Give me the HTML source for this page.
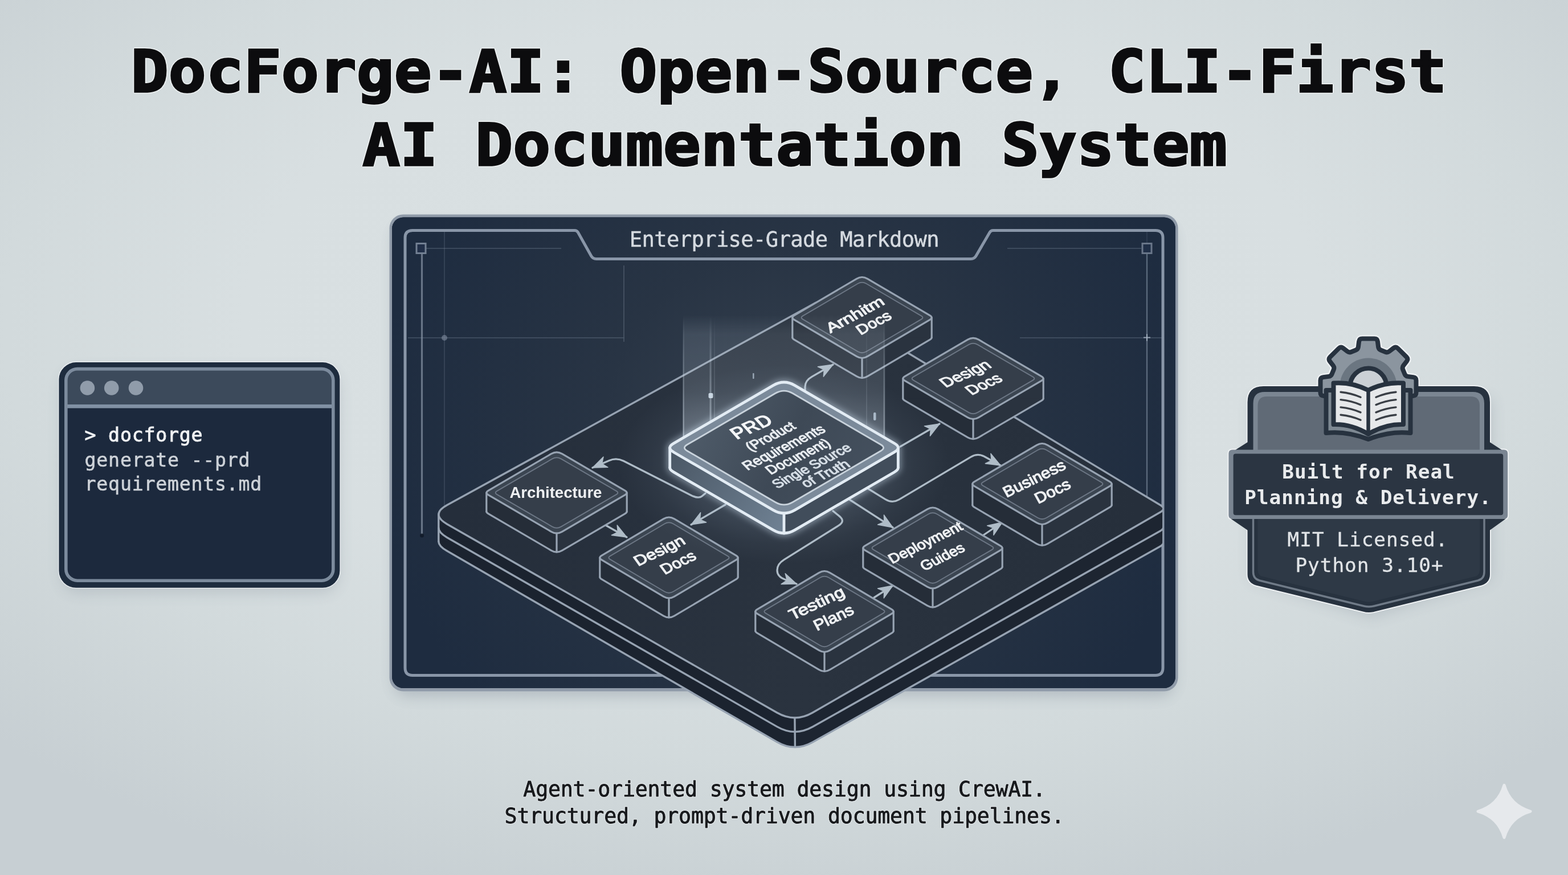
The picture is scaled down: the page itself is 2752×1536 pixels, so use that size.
<!DOCTYPE html>
<html lang="en">
<head>
<meta charset="utf-8">
<title>DocForge-AI: Open-Source, CLI-First AI Documentation System</title>
<style>
html,body{margin:0;padding:0;background:#d4dcde;}
body{width:2752px;height:1536px;overflow:hidden;}
svg{display:block;}
text{white-space:pre;}
</style>
</head>
<body>
<svg width="2752" height="1536" viewBox="0 0 2752 1536" role="img" aria-label="DocForge-AI infographic">
<defs>
<radialGradient id="bg" gradientUnits="userSpaceOnUse" cx="0" cy="0" r="1" gradientTransform="translate(1376 570) scale(1900 1060)">
  <stop offset="0" stop-color="#dae1e3"/>
  <stop offset="0.5" stop-color="#d8dfe1"/>
  <stop offset="0.72" stop-color="#d2dadc"/>
  <stop offset="0.9" stop-color="#cbd3d6"/>
  <stop offset="1.0" stop-color="#c7cfd3"/>
</radialGradient>
<radialGradient id="panelg" gradientUnits="userSpaceOnUse" cx="1380" cy="760" r="720">
  <stop offset="0" stop-color="#36414f"/>
  <stop offset="0.45" stop-color="#283444"/>
  <stop offset="1" stop-color="#1e2c40"/>
</radialGradient>
<linearGradient id="platg" gradientUnits="userSpaceOnUse" x1="800" y1="900" x2="2000" y2="900">
  <stop offset="0" stop-color="#252e3b"/>
  <stop offset="0.5" stop-color="#2a333f"/>
  <stop offset="1" stop-color="#262f3b"/>
</linearGradient>
<linearGradient id="beamg" gradientUnits="userSpaceOnUse" x1="0" y1="552" x2="0" y2="800">
  <stop offset="0" stop-color="#c9d6e2" stop-opacity="0"/>
  <stop offset="0.14" stop-color="#c9d6e2" stop-opacity="0.11"/>
  <stop offset="0.55" stop-color="#c9d6e2" stop-opacity="0.15"/>
  <stop offset="1" stop-color="#d6e2ee" stop-opacity="0.30"/>
</linearGradient>
<radialGradient id="prdglow" cx="50%" cy="50%" r="50%">
  <stop offset="0" stop-color="#b9cbdc" stop-opacity="0.34"/>
  <stop offset="0.55" stop-color="#a9bccf" stop-opacity="0.16"/>
  <stop offset="0.8" stop-color="#a9bccf" stop-opacity="0.05"/>
  <stop offset="1" stop-color="#a9bccf" stop-opacity="0"/>
</radialGradient>
<linearGradient id="prdtop" gradientUnits="userSpaceOnUse" x1="1200" y1="700" x2="1560" y2="880">
  <stop offset="0" stop-color="#525f6d"/>
  <stop offset="0.5" stop-color="#3e4956"/>
  <stop offset="1" stop-color="#465260"/>
</linearGradient>
<linearGradient id="prdside" gradientUnits="userSpaceOnUse" x1="1170" y1="800" x2="1376" y2="930">
  <stop offset="0" stop-color="#4a5765"/>
  <stop offset="1" stop-color="#6f8193"/>
</linearGradient>
<linearGradient id="beaml" gradientUnits="userSpaceOnUse" x1="0" y1="556" x2="0" y2="790">
  <stop offset="0" stop-color="#cddbe8" stop-opacity="0"/>
  <stop offset="0.3" stop-color="#cddbe8" stop-opacity="0.22"/>
  <stop offset="1" stop-color="#dbe7f2" stop-opacity="0.5"/>
</linearGradient>
<filter id="blur3" x="-20%" y="-20%" width="140%" height="140%"><feGaussianBlur stdDeviation="3"/></filter>
<filter id="blur6" x="-20%" y="-20%" width="140%" height="140%"><feGaussianBlur stdDeviation="6"/></filter>
<filter id="blur12" x="-30%" y="-30%" width="160%" height="160%"><feGaussianBlur stdDeviation="12"/></filter>
<filter id="blur20" x="-30%" y="-30%" width="160%" height="160%"><feGaussianBlur stdDeviation="20"/></filter>
<clipPath id="panelclip"><rect x="684" y="377" width="1383" height="836" rx="24"/></clipPath>
</defs>
<rect width="2752" height="1536" fill="url(#bg)"/>
<g opacity="0.999">
<g font-family="'DejaVu Sans Mono', 'Liberation Mono', monospace" font-weight="bold" font-size="102" letter-spacing="0.54" text-anchor="middle" stroke-linejoin="miter" stroke-miterlimit="2.5">
<g fill="#f4f6f7" stroke="#f4f6f7" stroke-width="7" opacity="0.7" stroke-linejoin="round">
<text transform="translate(1384.6 161.4) scale(1.065 1)" x="0" y="0">DocForge-AI: Open-Source, CLI-First</text>
<text transform="translate(1395.2 289.6) scale(1.065 1)" x="0" y="0">AI Documentation System</text>
</g>
<g fill="#0c0c0e" stroke="#0c0c0e" stroke-width="3.6">
<text transform="translate(1384.6 161.4) scale(1.065 1)" x="0" y="0">DocForge-AI: Open-Source, CLI-First</text>
<text transform="translate(1395.2 289.6) scale(1.065 1)" x="0" y="0">AI Documentation System</text>
</g>
</g>
<g font-family="'DejaVu Sans Mono', 'Liberation Mono', monospace" font-size="36.6" letter-spacing="-0.2" text-anchor="middle" stroke-linejoin="round">
<g fill="#eef1f3" stroke="#eef1f3" stroke-width="3.4" opacity="0.55">
<text x="1376.6" y="1398.2">Agent-oriented system design using CrewAI.</text>
<text x="1376.6" y="1445.4">Structured, prompt-driven document pipelines.</text>
</g>
<g fill="#17191c" stroke="#17191c" stroke-width="0.9">
<text x="1376.6" y="1398.2">Agent-oriented system design using CrewAI.</text>
<text x="1376.6" y="1445.4">Structured, prompt-driven document pipelines.</text>
</g>
</g>
<path d="M2640 1378.3Q2650.3 1414 2686 1424.3Q2650.3 1434.6 2640 1470.3Q2629.7 1434.6 2594 1424.3Q2629.7 1414 2640 1378.3Z" fill="#e6e9ec" stroke="#e6e9ec" stroke-width="5" stroke-linejoin="round"/>
<g id="terminal">
<rect x="108" y="650" width="486" height="390" rx="30" fill="#97a1ab" opacity="0.4" filter="url(#blur12)"/>
<rect x="102" y="634.6" width="495.8" height="398.6" rx="31" fill="#e9edf0"/>
<rect x="103.4" y="636.1" width="493" height="395.7" rx="30" fill="#1e2c3e"/>
<path d="M116 713 V671 Q116 648 139 648 H561 Q584 648 584 671 V713 Z" fill="#3c4a5b"/>
<path d="M116 717 H584 V997 Q584 1019 562 1019 H138 Q116 1019 116 997 Z" fill="#1c293d"/>
<rect x="113" y="710" width="474" height="6.5" fill="#8191a4"/>
<rect x="115.8" y="647.6" width="469" height="371.6" rx="20" fill="none" stroke="#7c8b9d" stroke-width="5.6"/>
<circle cx="153.4" cy="681" r="12.8" fill="#909caa"/>
<circle cx="195.7" cy="681" r="12.8" fill="#909caa"/>
<circle cx="238.5" cy="681" r="12.8" fill="#909caa"/>
<g font-family="'DejaVu Sans Mono', 'Liberation Mono', monospace" font-size="33.2" letter-spacing="0.78">
<text x="148.6" y="775.4" fill="#f0f2f4" stroke="#f0f2f4" stroke-width="0.9">&gt; docforge</text>
<text x="148.6" y="818.6" fill="#cdd2d8" stroke="#cdd2d8" stroke-width="0.6">generate --prd</text>
<text x="148.6" y="861.3" fill="#cdd2d8" stroke="#cdd2d8" stroke-width="0.6">requirements.md</text>
</g>
</g>
<g id="badge">
<path d="M2196 700 H2618 V1018 L2406 1084 L2196 1018 Z" fill="#97a1ab" opacity="0.4" filter="url(#blur12)"/>
<g fill="#eef1f3" stroke="#eef1f3" stroke-width="4" stroke-linejoin="round"><path d="M2379.7 614.5Q2383.4 613 2383.9 609L2385.1 599.4Q2385.8 594.5 2390.8 594.5L2412.2 594.5Q2417.2 594.5 2417.9 599.4L2419.1 609Q2419.6 613 2423.3 614.5L2431.3 617.8Q2435 619.3 2438.2 616.9L2445.8 611Q2449.8 608 2453.3 611.5L2468.5 626.7Q2472 630.2 2469 634.2L2463.1 641.8Q2460.7 645 2462.2 648.7L2465.5 656.7Q2467 660.4 2471 660.9L2480.6 662.1Q2485.5 662.8 2485.5 667.8L2485.5 689.2Q2485.5 694.2 2480.6 694.9L2471 696.1Q2467 696.6 2465.5 700.3L2462.2 708.3Q2460.7 712 2463.1 715.2L2469 722.8Q2472 726.8 2468.5 730.3L2453.3 745.5Q2449.8 749 2445.8 746L2438.2 740.1Q2435 737.7 2431.3 739.2L2423.3 742.5Q2419.6 744 2419.1 748L2417.9 757.6Q2417.2 762.5 2412.2 762.5L2390.8 762.5Q2385.8 762.5 2385.1 757.6L2383.9 748Q2383.4 744 2379.7 742.5L2371.7 739.2Q2368 737.7 2364.8 740.1L2357.2 746Q2353.2 749 2349.7 745.5L2334.5 730.3Q2331 726.8 2334 722.8L2339.9 715.2Q2342.3 712 2340.8 708.3L2337.5 700.3Q2336 696.6 2332 696.1L2322.4 694.9Q2317.5 694.2 2317.5 689.2L2317.5 667.8Q2317.5 662.8 2322.4 662.1L2332 660.9Q2336 660.4 2337.5 656.7L2340.8 648.7Q2342.3 645 2339.9 641.8L2334 634.2Q2331 630.2 2334.5 626.7L2349.7 611.5Q2353.2 608 2357.2 611L2364.8 616.9Q2368 619.3 2371.7 617.8Z" stroke-width="13"/><path d="M2189.5 706Q2189.5 678 2217.5 678H2587Q2615 678 2615 706V1008Q2615 1023 2600 1027.5L2413 1073.5Q2402.5 1076.5 2392 1073.5L2204.5 1027.5Q2189.5 1023 2189.5 1008Z"/><path d="M2156.4 796Q2156.4 789.5 2163 789.5H2639.6Q2646.2 789.5 2646.2 796V904.6Q2646.2 911.1 2639.6 911.1H2163Q2156.4 911.1 2156.4 904.6Z"/></g>
<clipPath id="shclip"><path d="M2189.5 706Q2189.5 678 2217.5 678H2587Q2615 678 2615 706V1008Q2615 1023 2600 1027.5L2413 1073.5Q2402.5 1076.5 2392 1073.5L2204.5 1027.5Q2189.5 1023 2189.5 1008Z"/></clipPath>
<path d="M2189.5 706Q2189.5 678 2217.5 678H2587Q2615 678 2615 706V1008Q2615 1023 2600 1027.5L2413 1073.5Q2402.5 1076.5 2392 1073.5L2204.5 1027.5Q2189.5 1023 2189.5 1008Z" fill="#27323f"/>
<g clip-path="url(#shclip)">
<path d="M2199.5 708Q2199.5 688 2219.5 688H2585Q2605 688 2605 708V1004Q2605 1016 2594 1019L2411 1064Q2402.5 1066 2394 1064L2210.5 1019Q2199.5 1016 2199.5 1004Z" fill="#7b8692"/>
<path d="M2207.5 712Q2207.5 696 2223.5 696H2581Q2597 696 2597 712V1001Q2597 1010 2589 1012L2409 1056Q2402.5 1057.5 2396 1056L2215.5 1012Q2207.5 1010 2207.5 1001Z" fill="#606a76"/>
<clipPath id="shlow"><rect x="2150" y="900" width="520" height="200"/></clipPath>
<g clip-path="url(#shlow)">
<path d="M2199.5 708Q2199.5 688 2219.5 688H2585Q2605 688 2605 708V1004Q2605 1016 2594 1019L2411 1064Q2402.5 1066 2394 1064L2210.5 1019Q2199.5 1016 2199.5 1004Z" fill="#27323f"/>
<path d="M2199.5 708Q2199.5 688 2219.5 688H2585Q2605 688 2605 708V1004Q2605 1016 2594 1019L2411 1064Q2402.5 1066 2394 1064L2210.5 1019Q2199.5 1016 2199.5 1004Z" fill="none" stroke="#6f7a87" stroke-width="3.5" transform="translate(0 0)"/>
<path d="M2207.5 712Q2207.5 696 2223.5 696H2581Q2597 696 2597 712V1001Q2597 1010 2589 1012L2409 1056Q2402.5 1057.5 2396 1056L2215.5 1012Q2207.5 1010 2207.5 1001Z" fill="#2e3946"/>
</g>
</g>
<path d="M2190 776L2168 790H2190Z M2614.5 776L2636 790H2614.5Z M2160 910.5H2190V931Z M2643 910.5H2614.5V931Z" fill="#27323f"/>
<path d="M2156.4 796Q2156.4 789.5 2163 789.5H2639.6Q2646.2 789.5 2646.2 796V904.6Q2646.2 911.1 2639.6 911.1H2163Q2156.4 911.1 2156.4 904.6Z" fill="#7a8592"/>
<rect x="2164.6" y="796.6" width="473.6" height="107.6" rx="4" fill="#2b3542"/>
<path d="M2379.7 614.5Q2383.4 613 2383.9 609L2385.1 599.4Q2385.8 594.5 2390.8 594.5L2412.2 594.5Q2417.2 594.5 2417.9 599.4L2419.1 609Q2419.6 613 2423.3 614.5L2431.3 617.8Q2435 619.3 2438.2 616.9L2445.8 611Q2449.8 608 2453.3 611.5L2468.5 626.7Q2472 630.2 2469 634.2L2463.1 641.8Q2460.7 645 2462.2 648.7L2465.5 656.7Q2467 660.4 2471 660.9L2480.6 662.1Q2485.5 662.8 2485.5 667.8L2485.5 689.2Q2485.5 694.2 2480.6 694.9L2471 696.1Q2467 696.6 2465.5 700.3L2462.2 708.3Q2460.7 712 2463.1 715.2L2469 722.8Q2472 726.8 2468.5 730.3L2453.3 745.5Q2449.8 749 2445.8 746L2438.2 740.1Q2435 737.7 2431.3 739.2L2423.3 742.5Q2419.6 744 2419.1 748L2417.9 757.6Q2417.2 762.5 2412.2 762.5L2390.8 762.5Q2385.8 762.5 2385.1 757.6L2383.9 748Q2383.4 744 2379.7 742.5L2371.7 739.2Q2368 737.7 2364.8 740.1L2357.2 746Q2353.2 749 2349.7 745.5L2334.5 730.3Q2331 726.8 2334 722.8L2339.9 715.2Q2342.3 712 2340.8 708.3L2337.5 700.3Q2336 696.6 2332 696.1L2322.4 694.9Q2317.5 694.2 2317.5 689.2L2317.5 667.8Q2317.5 662.8 2322.4 662.1L2332 660.9Q2336 660.4 2337.5 656.7L2340.8 648.7Q2342.3 645 2339.9 641.8L2334 634.2Q2331 630.2 2334.5 626.7L2349.7 611.5Q2353.2 608 2357.2 611L2364.8 616.9Q2368 619.3 2371.7 617.8Z" fill="#8b959f" stroke="#27323f" stroke-width="8" stroke-linejoin="round"/>
<circle cx="2401.5" cy="678.5" r="50" fill="#6b7681"/>
<circle cx="2401.5" cy="678.5" r="32" fill="#cbd0d5" stroke="#27323f" stroke-width="8"/>
<path d="M2327.5 685H2475.5V760Q2440 756 2401.5 771Q2363 756 2327.5 760Z" fill="#7d8892" stroke="#27323f" stroke-width="8" stroke-linejoin="round"/>
<path d="M2340.5 672.5Q2372 670 2401.5 685Q2431 670 2463 672.5V745Q2431 744 2401.5 762Q2372 744 2340.5 745Z" fill="#e6e8ea" stroke="#27323f" stroke-width="8" stroke-linejoin="round"/>
<path d="M2401.5 685V762" stroke="#27323f" stroke-width="6.5"/>
<g stroke="#3a3f46" stroke-width="3.4" stroke-linecap="round" fill="none">
<path d="M2353 688.3Q2372 690.3 2388 697.3"/>
<path d="M2450 688.3Q2431 690.3 2415 697.3"/>
<path d="M2353 701.6Q2372 703.6 2388 710.6"/>
<path d="M2450 701.6Q2431 703.6 2415 710.6"/>
<path d="M2353 714.9Q2372 716.9 2388 723.9"/>
<path d="M2450 714.9Q2431 716.9 2415 723.9"/>
<path d="M2353 728.2Q2372 730.2 2388 737.2"/>
<path d="M2450 728.2Q2431 730.2 2415 737.2"/>
</g>
<g font-family="'DejaVu Sans Mono', 'Liberation Mono', monospace" text-anchor="middle" font-size="34.4" letter-spacing="0.98">
<g font-weight="bold" fill="#e9ebed">
<text x="2402" y="840.2">Built for Real</text>
<text x="2401" y="884.8">Planning &amp; Delivery.</text>
</g>
<g fill="#e1e4e7" stroke="#e1e4e7" stroke-width="0.3">
<text x="2400.5" y="959.3">MIT Licensed.</text>
<text x="2403.5" y="1004">Python 3.10+</text>
</g>
</g>
</g>
<g id="panel">
<rect x="692" y="396" width="1368" height="826" rx="24" fill="#8a95a0" opacity="0.45" filter="url(#blur12)"/>
<rect x="683.5" y="376.5" width="1384" height="837" rx="24" fill="#909ba9"/>
<rect x="688" y="381.5" width="1375" height="826.5" rx="20" fill="#1d2b3e"/>
<rect x="688" y="381.5" width="1375" height="826.5" rx="20" fill="url(#panelg)"/>
<g clip-path="url(#panelclip)">
<g stroke="#8996a8" fill="none" opacity="0.36" stroke-width="1.6">
<path d="M748 436 H985"/>
</g><path d="M740.5 446 V938" stroke="#7a8798" stroke-width="3.2" opacity="0.8" fill="none"/><path d="M2013 446 V880" stroke="#6f7d90" stroke-width="2.4" opacity="0.75" fill="none"/><g stroke="#8996a8" fill="none" opacity="0.36" stroke-width="1.6">
<path d="M780 404 V965" opacity="0.7"/>
<path d="M716 593 H1096"/>
<path d="M1095 466 V600"/>
<path d="M1768 436 H2003"/>
<path d="M1790 593 H2040"/>
<path d="M2013 404 V427" opacity="0.5"/>
</g>
<rect x="731" y="427.5" width="16" height="17" fill="#22314a" stroke="#8996a8" stroke-width="3" opacity="0.8"/>
<rect x="2005" y="427.5" width="16" height="17" fill="#22314a" stroke="#8996a8" stroke-width="3" opacity="0.7"/>
<circle cx="780" cy="593" r="5" fill="#8996a8" opacity="0.55"/>
<circle cx="740.5" cy="940" r="3.5" fill="#0f1826" opacity="0.8"/><path d="M2007 592.5H2019M2013 586.5V598.5" stroke="#b9c6d4" stroke-width="2" opacity="0.7"/>
</g>
<path d="M711 450Q711 430 711 417.2L711 417.2Q711 404.5 724 404.5L1008.5 404.5Q1012.5 404.5 1014.5 408L1037.6 449.3Q1040.5 454.5 1046.5 454.5L1704 454.5Q1710 454.5 1713 449.3L1737 408Q1739 404.5 1743 404.5L2028 404.5Q2041 404.5 2041 417.5L2041 1172.5Q2041 1185.5 2028 1185.5L724 1185.5Q711 1185.5 711 1172.5Z" fill="none" stroke="#8996a8" stroke-width="5" stroke-linejoin="round"/>
<text x="1376.4" y="432.8" text-anchor="middle" font-family="'DejaVu Sans Mono', 'Liberation Mono', monospace" font-size="37.2" letter-spacing="-0.66" fill="#d5dae0" stroke="#d5dae0" stroke-width="0.45">Enterprise-Grade Markdown</text>
<g id="diagram">
<clipPath id="platclip"><rect x="600" y="300" width="1441" height="1200"/></clipPath>
<g clip-path="url(#platclip)">
<g fill="#1b232f"><path d="M784.4 967Q755 950 784.9 933.9L1431.2 585.2Q1440 580.5 1448.5 585.7L2036.8 946.7Q2047 953 2036.5 958.9L1426.4 1302.8Q1395 1320.5 1363.8 1302.5Z"/><path d="M769.8 903.2L2041.8 892.9L2041.8 952.8L769.8 950.4Z"/></g><clipPath id="platR"><rect x="1395" y="0" width="1500" height="1536"/></clipPath><g fill="#1d2531" clip-path="url(#platR)"><path d="M784.4 967Q755 950 784.9 933.9L1431.2 585.2Q1440 580.5 1448.5 585.7L2036.8 946.7Q2047 953 2036.5 958.9L1426.4 1302.8Q1395 1320.5 1363.8 1302.5Z"/><path d="M769.8 903.2L2041.8 892.9L2041.8 952.8L769.8 950.4Z"/></g><path d="M784.5 919.9Q755 903 784.8 886.6L1431.2 531.8Q1440 527 1448.6 532.2L2036.7 886.8Q2047 893 2036.6 899L1426.2 1251Q1395 1269 1363.7 1251.1Z" fill="url(#platg)"/><g fill="none" stroke="#97a3b2" stroke-width="3.4" stroke-linejoin="round" stroke-linecap="round"><path d="M769.8 926.8Q769.8 935 784.5 943.4L1363.8 1275.6Q1395 1293.5 1426.4 1275.8L2036.5 931.9Q2041.8 928.9 2041.8 925.8"/><path d="M769.8 950.4Q769.8 958.6 784.4 967L1363.8 1302.5Q1395 1320.5 1426.4 1302.8L2036.5 958.9Q2041.8 955.9 2041.8 952.8"/><path d="M769.8 903.2L769.8 950.4M2041.8 892.9L2041.8 952.8"/><path d="M1394.9 1260L1395.4 1311.6"/><path d="M784.5 919.9Q755 903 784.8 886.6L1431.2 531.8Q1440 527 1448.6 532.2L2036.7 886.8Q2047 893 2036.6 899L1426.2 1251Q1395 1269 1363.7 1251.1Z"/></g>
</g>
<path d="M1413 690L1413 679Q1413 668 1425.2 661.1L1462 640" fill="none" stroke="#afbcc7" stroke-width="3.3" stroke-linecap="round" stroke-linejoin="round"/><path d="M1462 640L1445.3 661.1L1446.4 648.9L1435.3 643.7Z" fill="#afbcc7" stroke="#afbcc7" stroke-width="1.5" stroke-linejoin="round"/>
<path d="M1580 784L1649 744" fill="none" stroke="#afbcc7" stroke-width="3.3" stroke-linecap="round" stroke-linejoin="round"/><path d="M1649 744L1632.4 765.2L1633.4 753L1622.4 747.9Z" fill="#afbcc7" stroke="#afbcc7" stroke-width="1.5" stroke-linejoin="round"/>
<path d="M1238 866L1232 871Q1226 876 1213.5 869.7L1094.5 809.3Q1082 803 1069.1 808.5L1040 821" fill="none" stroke="#afbcc7" stroke-width="3.3" stroke-linecap="round" stroke-linejoin="round"/><path d="M1040 821L1059 802L1056.5 813.9L1066.9 820.3Z" fill="#afbcc7" stroke="#afbcc7" stroke-width="1.5" stroke-linejoin="round"/>
<path d="M1273 886L1213 921" fill="none" stroke="#afbcc7" stroke-width="3.3" stroke-linecap="round" stroke-linejoin="round"/><path d="M1213 921L1229.6 899.8L1228.5 911.9L1239.6 917Z" fill="#afbcc7" stroke="#afbcc7" stroke-width="1.5" stroke-linejoin="round"/>
<path d="M1063 922L1100 943" fill="none" stroke="#afbcc7" stroke-width="3.3" stroke-linecap="round" stroke-linejoin="round"/><path d="M1100 943L1073.3 939.4L1084.3 934.1L1083.2 922Z" fill="#afbcc7" stroke="#afbcc7" stroke-width="1.5" stroke-linejoin="round"/>
<path d="M1462 897L1473.2 906.1Q1484 915 1472.1 922.4L1375.9 982.6Q1364 990 1364 1001L1364 1001Q1364 1012 1377.1 1017L1398 1025" fill="none" stroke="#afbcc7" stroke-width="3.3" stroke-linecap="round" stroke-linejoin="round"/><path d="M1398 1025L1371.1 1025.4L1381.2 1018.6L1378.2 1006.7Z" fill="#afbcc7" stroke="#afbcc7" stroke-width="1.5" stroke-linejoin="round"/>
<path d="M1491 877L1567 926" fill="none" stroke="#afbcc7" stroke-width="3.3" stroke-linecap="round" stroke-linejoin="round"/><path d="M1567 926L1540.6 920.9L1551.9 916.2L1551.4 904Z" fill="#afbcc7" stroke="#afbcc7" stroke-width="1.5" stroke-linejoin="round"/>
<path d="M1519 855L1554.1 876.6Q1566 884 1578 876.9L1704 802.1Q1716 795 1728.3 801.7L1756 817" fill="none" stroke="#afbcc7" stroke-width="3.3" stroke-linecap="round" stroke-linejoin="round"/><path d="M1756 817L1729.3 813.7L1740.2 808.3L1738.9 796.2Z" fill="#afbcc7" stroke="#afbcc7" stroke-width="1.5" stroke-linejoin="round"/>
<path d="M1534 1049L1567 1028" fill="none" stroke="#afbcc7" stroke-width="3.3" stroke-linecap="round" stroke-linejoin="round"/><path d="M1567 1028L1551.3 1049.9L1551.8 1037.7L1540.5 1033Z" fill="#afbcc7" stroke="#afbcc7" stroke-width="1.5" stroke-linejoin="round"/>
<path d="M1725 940L1759 917" fill="none" stroke="#afbcc7" stroke-width="3.3" stroke-linecap="round" stroke-linejoin="round"/><path d="M1759 917L1743.9 939.3L1744.1 927.1L1732.7 922.7Z" fill="#afbcc7" stroke="#afbcc7" stroke-width="1.5" stroke-linejoin="round"/>
<g fill="#252d38"><path d="M1394.1 596.4Q1387.5 592.5 1394.1 588.6L1503.5 524.3Q1513 518.7 1522.5 524.3L1631.9 588.6Q1638.5 592.5 1631.9 596.4L1522.5 660.7Q1513 666.3 1503.5 660.7Z"/><path d="M1390.8 557.5L1635.2 557.5L1635.2 592.5L1390.8 592.5Z"/></g><clipPath id="sg1"><rect x="1513" y="0" width="1500" height="1536"/></clipPath><g fill="#2a333f" clip-path="url(#sg1)"><path d="M1394.1 596.4Q1387.5 592.5 1394.1 588.6L1503.5 524.3Q1513 518.7 1522.5 524.3L1631.9 588.6Q1638.5 592.5 1631.9 596.4L1522.5 660.7Q1513 666.3 1503.5 660.7Z"/><path d="M1390.8 557.5L1635.2 557.5L1635.2 592.5L1390.8 592.5Z"/></g><path d="M1394.1 561.4Q1387.5 557.5 1394.1 553.6L1503.5 489.3Q1513 483.7 1522.5 489.3L1631.9 553.6Q1638.5 557.5 1631.9 561.4L1522.5 625.7Q1513 631.3 1503.5 625.7Z" fill="#353e4a"/><path d="M1394.1 561.4Q1387.5 557.5 1394.1 553.6L1503.5 489.3Q1513 483.7 1522.5 489.3L1631.9 553.6Q1638.5 557.5 1631.9 561.4L1522.5 625.7Q1513 631.3 1503.5 625.7Z" fill="#3b4551"/><path d="M1408.9 560.3Q1404.2 557.5 1408.9 554.7L1505.4 498Q1513 493.5 1520.6 498L1617.1 554.7Q1621.8 557.5 1617.1 560.3L1520.6 617Q1513 621.5 1505.4 617Z" fill="#353e4a" stroke="#97a3b2" stroke-width="2" stroke-opacity="0.55"/><g fill="none" stroke="#97a3b2" stroke-width="3.2" stroke-linejoin="round" stroke-linecap="round"><path d="M1390.8 592.5Q1390.8 594.5 1394.1 596.4L1503.5 660.7Q1513 666.3 1522.5 660.7L1631.9 596.4Q1635.2 594.5 1635.2 592.5"/><path d="M1390.8 557.5v35M1635.2 557.5v35"/><path d="M1513 628.5v35"/><path d="M1394.1 561.4Q1387.5 557.5 1394.1 553.6L1503.5 489.3Q1513 483.7 1522.5 489.3L1631.9 553.6Q1638.5 557.5 1631.9 561.4L1522.5 625.7Q1513 631.3 1503.5 625.7Z"/></g>
<g fill="#252d38"><path d="M1588.2 703.4Q1581.5 699.5 1588.2 695.6L1698.5 631.2Q1708 625.7 1717.5 631.2L1827.8 695.6Q1834.5 699.5 1827.8 703.4L1717.5 767.8Q1708 773.3 1698.5 767.8Z"/><path d="M1584.8 664.5L1831.2 664.5L1831.2 699.5L1584.8 699.5Z"/></g><clipPath id="sg2"><rect x="1708" y="0" width="1500" height="1536"/></clipPath><g fill="#2a333f" clip-path="url(#sg2)"><path d="M1588.2 703.4Q1581.5 699.5 1588.2 695.6L1698.5 631.2Q1708 625.7 1717.5 631.2L1827.8 695.6Q1834.5 699.5 1827.8 703.4L1717.5 767.8Q1708 773.3 1698.5 767.8Z"/><path d="M1584.8 664.5L1831.2 664.5L1831.2 699.5L1584.8 699.5Z"/></g><path d="M1588.2 668.4Q1581.5 664.5 1588.2 660.6L1698.5 596.2Q1708 590.7 1717.5 596.2L1827.8 660.6Q1834.5 664.5 1827.8 668.4L1717.5 732.8Q1708 738.3 1698.5 732.8Z" fill="#353e4a"/><path d="M1588.2 668.4Q1581.5 664.5 1588.2 660.6L1698.5 596.2Q1708 590.7 1717.5 596.2L1827.8 660.6Q1834.5 664.5 1827.8 668.4L1717.5 732.8Q1708 738.3 1698.5 732.8Z" fill="#3b4551"/><path d="M1603 667.3Q1598.3 664.5 1603 661.7L1700.4 604.9Q1708 600.5 1715.6 604.9L1813 661.7Q1817.7 664.5 1813 667.3L1715.6 724.1Q1708 728.5 1700.4 724.1Z" fill="#353e4a" stroke="#97a3b2" stroke-width="2" stroke-opacity="0.55"/><g fill="none" stroke="#97a3b2" stroke-width="3.2" stroke-linejoin="round" stroke-linecap="round"><path d="M1584.8 699.5Q1584.8 701.4 1588.2 703.4L1698.5 767.8Q1708 773.3 1717.5 767.8L1827.8 703.4Q1831.2 701.4 1831.2 699.5"/><path d="M1584.8 664.5v35M1831.2 664.5v35"/><path d="M1708 735.5v35"/><path d="M1588.2 668.4Q1581.5 664.5 1588.2 660.6L1698.5 596.2Q1708 590.7 1717.5 596.2L1827.8 660.6Q1834.5 664.5 1827.8 668.4L1717.5 732.8Q1708 738.3 1698.5 732.8Z"/></g>
<g fill="#252d38"><path d="M1710.1 890.4Q1703.5 886.5 1710.1 882.6L1819.5 818.3Q1829 812.7 1838.5 818.3L1947.9 882.6Q1954.5 886.5 1947.9 890.4L1838.5 954.7Q1829 960.3 1819.5 954.7Z"/><path d="M1706.8 849.5L1951.2 849.5L1951.2 886.5L1706.8 886.5Z"/></g><clipPath id="sg3"><rect x="1829" y="0" width="1500" height="1536"/></clipPath><g fill="#2a333f" clip-path="url(#sg3)"><path d="M1710.1 890.4Q1703.5 886.5 1710.1 882.6L1819.5 818.3Q1829 812.7 1838.5 818.3L1947.9 882.6Q1954.5 886.5 1947.9 890.4L1838.5 954.7Q1829 960.3 1819.5 954.7Z"/><path d="M1706.8 849.5L1951.2 849.5L1951.2 886.5L1706.8 886.5Z"/></g><path d="M1710.1 853.4Q1703.5 849.5 1710.1 845.6L1819.5 781.3Q1829 775.7 1838.5 781.3L1947.9 845.6Q1954.5 849.5 1947.9 853.4L1838.5 917.7Q1829 923.3 1819.5 917.7Z" fill="#353e4a"/><path d="M1710.1 853.4Q1703.5 849.5 1710.1 845.6L1819.5 781.3Q1829 775.7 1838.5 781.3L1947.9 845.6Q1954.5 849.5 1947.9 853.4L1838.5 917.7Q1829 923.3 1819.5 917.7Z" fill="#3b4551"/><path d="M1724.9 852.3Q1720.2 849.5 1724.9 846.7L1821.4 790Q1829 785.5 1836.6 790L1933.1 846.7Q1937.8 849.5 1933.1 852.3L1836.6 909Q1829 913.5 1821.4 909Z" fill="#353e4a" stroke="#97a3b2" stroke-width="2" stroke-opacity="0.55"/><g fill="none" stroke="#97a3b2" stroke-width="3.2" stroke-linejoin="round" stroke-linecap="round"><path d="M1706.8 886.5Q1706.8 888.5 1710.1 890.4L1819.5 954.7Q1829 960.3 1838.5 954.7L1947.9 890.4Q1951.2 888.5 1951.2 886.5"/><path d="M1706.8 849.5v37M1951.2 849.5v37"/><path d="M1829 920.5v37"/><path d="M1710.1 853.4Q1703.5 849.5 1710.1 845.6L1819.5 781.3Q1829 775.7 1838.5 781.3L1947.9 845.6Q1954.5 849.5 1947.9 853.4L1838.5 917.7Q1829 923.3 1819.5 917.7Z"/></g>
<g fill="#252d38"><path d="M857.2 901.9Q850.5 898 857.2 894.1L967.5 829.7Q977 824.2 986.5 829.7L1096.8 894.1Q1103.5 898 1096.8 901.9L986.5 966.3Q977 971.8 967.5 966.3Z"/><path d="M853.8 865L1100.2 865L1100.2 898L853.8 898Z"/></g><clipPath id="sg4"><rect x="977" y="0" width="1500" height="1536"/></clipPath><g fill="#2a333f" clip-path="url(#sg4)"><path d="M857.2 901.9Q850.5 898 857.2 894.1L967.5 829.7Q977 824.2 986.5 829.7L1096.8 894.1Q1103.5 898 1096.8 901.9L986.5 966.3Q977 971.8 967.5 966.3Z"/><path d="M853.8 865L1100.2 865L1100.2 898L853.8 898Z"/></g><path d="M857.2 868.9Q850.5 865 857.2 861.1L967.5 796.7Q977 791.2 986.5 796.7L1096.8 861.1Q1103.5 865 1096.8 868.9L986.5 933.3Q977 938.8 967.5 933.3Z" fill="#353e4a"/><path d="M857.2 868.9Q850.5 865 857.2 861.1L967.5 796.7Q977 791.2 986.5 796.7L1096.8 861.1Q1103.5 865 1096.8 868.9L986.5 933.3Q977 938.8 967.5 933.3Z" fill="#3b4551"/><path d="M872 867.8Q867.3 865 872 862.2L969.4 805.4Q977 801 984.6 805.4L1082 862.2Q1086.7 865 1082 867.8L984.6 924.6Q977 929 969.4 924.6Z" fill="#353e4a" stroke="#97a3b2" stroke-width="2" stroke-opacity="0.55"/><g fill="none" stroke="#97a3b2" stroke-width="3.2" stroke-linejoin="round" stroke-linecap="round"><path d="M853.8 898Q853.8 899.9 857.2 901.9L967.5 966.3Q977 971.8 986.5 966.3L1096.8 901.9Q1100.2 899.9 1100.2 898"/><path d="M853.8 865v33M1100.2 865v33"/><path d="M977 936v33"/><path d="M857.2 868.9Q850.5 865 857.2 861.1L967.5 796.7Q977 791.2 986.5 796.7L1096.8 861.1Q1103.5 865 1096.8 868.9L986.5 933.3Q977 938.8 967.5 933.3Z"/></g>
<g fill="#252d38"><path d="M1056.1 1016.9Q1049.5 1013 1056.1 1009.1L1164.5 944.8Q1174 939.2 1183.5 944.8L1291.9 1009.1Q1298.5 1013 1291.9 1016.9L1183.5 1081.2Q1174 1086.8 1164.5 1081.2Z"/><path d="M1052.8 979L1295.2 979L1295.2 1013L1052.8 1013Z"/></g><clipPath id="sg5"><rect x="1174" y="0" width="1500" height="1536"/></clipPath><g fill="#2a333f" clip-path="url(#sg5)"><path d="M1056.1 1016.9Q1049.5 1013 1056.1 1009.1L1164.5 944.8Q1174 939.2 1183.5 944.8L1291.9 1009.1Q1298.5 1013 1291.9 1016.9L1183.5 1081.2Q1174 1086.8 1164.5 1081.2Z"/><path d="M1052.8 979L1295.2 979L1295.2 1013L1052.8 1013Z"/></g><path d="M1056.1 982.9Q1049.5 979 1056.1 975.1L1164.5 910.8Q1174 905.2 1183.5 910.8L1291.9 975.1Q1298.5 979 1291.9 982.9L1183.5 1047.2Q1174 1052.8 1164.5 1047.2Z" fill="#353e4a"/><path d="M1056.1 982.9Q1049.5 979 1056.1 975.1L1164.5 910.8Q1174 905.2 1183.5 910.8L1291.9 975.1Q1298.5 979 1291.9 982.9L1183.5 1047.2Q1174 1052.8 1164.5 1047.2Z" fill="#3b4551"/><path d="M1070.8 981.8Q1066 979 1070.8 976.2L1166.4 919.5Q1174 915 1181.6 919.5L1277.2 976.2Q1282 979 1277.2 981.8L1181.6 1038.5Q1174 1043 1166.4 1038.5Z" fill="#353e4a" stroke="#97a3b2" stroke-width="2" stroke-opacity="0.55"/><g fill="none" stroke="#97a3b2" stroke-width="3.2" stroke-linejoin="round" stroke-linecap="round"><path d="M1052.8 1013Q1052.8 1015 1056.1 1016.9L1164.5 1081.2Q1174 1086.8 1183.5 1081.2L1291.9 1016.9Q1295.2 1015 1295.2 1013"/><path d="M1052.8 979v34M1295.2 979v34"/><path d="M1174 1050v34"/><path d="M1056.1 982.9Q1049.5 979 1056.1 975.1L1164.5 910.8Q1174 905.2 1183.5 910.8L1291.9 975.1Q1298.5 979 1291.9 982.9L1183.5 1047.2Q1174 1052.8 1164.5 1047.2Z"/></g>
<g fill="#252d38"><path d="M1518.1 998.9Q1511.5 995 1518.1 991.1L1627.5 926.8Q1637 921.2 1646.5 926.8L1755.9 991.1Q1762.5 995 1755.9 998.9L1646.5 1063.2Q1637 1068.8 1627.5 1063.2Z"/><path d="M1514.8 962L1759.2 962L1759.2 995L1514.8 995Z"/></g><clipPath id="sg6"><rect x="1637" y="0" width="1500" height="1536"/></clipPath><g fill="#2a333f" clip-path="url(#sg6)"><path d="M1518.1 998.9Q1511.5 995 1518.1 991.1L1627.5 926.8Q1637 921.2 1646.5 926.8L1755.9 991.1Q1762.5 995 1755.9 998.9L1646.5 1063.2Q1637 1068.8 1627.5 1063.2Z"/><path d="M1514.8 962L1759.2 962L1759.2 995L1514.8 995Z"/></g><path d="M1518.1 965.9Q1511.5 962 1518.1 958.1L1627.5 893.8Q1637 888.2 1646.5 893.8L1755.9 958.1Q1762.5 962 1755.9 965.9L1646.5 1030.2Q1637 1035.8 1627.5 1030.2Z" fill="#353e4a"/><path d="M1518.1 965.9Q1511.5 962 1518.1 958.1L1627.5 893.8Q1637 888.2 1646.5 893.8L1755.9 958.1Q1762.5 962 1755.9 965.9L1646.5 1030.2Q1637 1035.8 1627.5 1030.2Z" fill="#3b4551"/><path d="M1532.9 964.8Q1528.2 962 1532.9 959.2L1629.4 902.5Q1637 898 1644.6 902.5L1741.1 959.2Q1745.8 962 1741.1 964.8L1644.6 1021.5Q1637 1026 1629.4 1021.5Z" fill="#353e4a" stroke="#97a3b2" stroke-width="2" stroke-opacity="0.55"/><g fill="none" stroke="#97a3b2" stroke-width="3.2" stroke-linejoin="round" stroke-linecap="round"><path d="M1514.8 995Q1514.8 997 1518.1 998.9L1627.5 1063.2Q1637 1068.8 1646.5 1063.2L1755.9 998.9Q1759.2 997 1759.2 995"/><path d="M1514.8 962v33M1759.2 962v33"/><path d="M1637 1033v33"/><path d="M1518.1 965.9Q1511.5 962 1518.1 958.1L1627.5 893.8Q1637 888.2 1646.5 893.8L1755.9 958.1Q1762.5 962 1755.9 965.9L1646.5 1030.2Q1637 1035.8 1627.5 1030.2Z"/></g>
<g fill="#252d38"><path d="M1329.1 1111.4Q1322.5 1107.5 1329.1 1103.6L1437.5 1039.3Q1447 1033.7 1456.5 1039.3L1564.9 1103.6Q1571.5 1107.5 1564.9 1111.4L1456.5 1175.7Q1447 1181.3 1437.5 1175.7Z"/><path d="M1325.8 1073.5L1568.2 1073.5L1568.2 1107.5L1325.8 1107.5Z"/></g><clipPath id="sg7"><rect x="1447" y="0" width="1500" height="1536"/></clipPath><g fill="#2a333f" clip-path="url(#sg7)"><path d="M1329.1 1111.4Q1322.5 1107.5 1329.1 1103.6L1437.5 1039.3Q1447 1033.7 1456.5 1039.3L1564.9 1103.6Q1571.5 1107.5 1564.9 1111.4L1456.5 1175.7Q1447 1181.3 1437.5 1175.7Z"/><path d="M1325.8 1073.5L1568.2 1073.5L1568.2 1107.5L1325.8 1107.5Z"/></g><path d="M1329.1 1077.4Q1322.5 1073.5 1329.1 1069.6L1437.5 1005.3Q1447 999.7 1456.5 1005.3L1564.9 1069.6Q1571.5 1073.5 1564.9 1077.4L1456.5 1141.7Q1447 1147.3 1437.5 1141.7Z" fill="#353e4a"/><path d="M1329.1 1077.4Q1322.5 1073.5 1329.1 1069.6L1437.5 1005.3Q1447 999.7 1456.5 1005.3L1564.9 1069.6Q1571.5 1073.5 1564.9 1077.4L1456.5 1141.7Q1447 1147.3 1437.5 1141.7Z" fill="#3b4551"/><path d="M1343.8 1076.3Q1339 1073.5 1343.8 1070.7L1439.4 1014Q1447 1009.5 1454.6 1014L1550.2 1070.7Q1555 1073.5 1550.2 1076.3L1454.6 1133Q1447 1137.5 1439.4 1133Z" fill="#353e4a" stroke="#97a3b2" stroke-width="2" stroke-opacity="0.55"/><g fill="none" stroke="#97a3b2" stroke-width="3.2" stroke-linejoin="round" stroke-linecap="round"><path d="M1325.8 1107.5Q1325.8 1109.5 1329.1 1111.4L1437.5 1175.7Q1447 1181.3 1456.5 1175.7L1564.9 1111.4Q1568.2 1109.5 1568.2 1107.5"/><path d="M1325.8 1073.5v34M1568.2 1073.5v34"/><path d="M1447 1144.5v34"/><path d="M1329.1 1077.4Q1322.5 1073.5 1329.1 1069.6L1437.5 1005.3Q1447 999.7 1456.5 1005.3L1564.9 1069.6Q1571.5 1073.5 1564.9 1077.4L1456.5 1141.7Q1447 1147.3 1437.5 1141.7Z"/></g>
<ellipse cx="1375" cy="815" rx="290" ry="175" fill="url(#prdglow)"/>
<path d="M1199 789 V552 H1552 V780 L1376 884 Z" fill="url(#beamg)"/>
<path d="M1199 789 V552 H1250 V760 Z" fill="url(#beamg)" opacity="0.3"/>
<g stroke="url(#beaml)" fill="none"><path d="M1199.5 552V789" stroke-width="2.4"/><path d="M1552 552V780" stroke-width="2.6"/><path d="M1247 552V760" stroke-width="3"/><path d="M1254 552V757" stroke-width="1.4" opacity="0.6"/><path d="M1521 552V785" stroke-width="1.4" opacity="0.5"/></g>
<rect x="1243.5" y="690" width="8" height="9" rx="2" fill="#dbe8f3" opacity="0.85"/><rect x="1533" y="724" width="4.5" height="14" rx="2" fill="#cfe0ef" opacity="0.7"/><rect x="1321" y="655" width="2.6" height="10" rx="1" fill="#cfe0ef" opacity="0.6"/>
<g filter="url(#blur6)" opacity="0.55"><path d="M1182.3 793.7Q1169 786 1182.3 778.3L1357 676.6Q1376 665.5 1395 676.6L1569.7 778.3Q1583 786 1569.7 793.7L1395 895.4Q1376 906.5 1357 895.4Z" fill="none"/><g fill="none" stroke="#cfe0f0" stroke-width="9" stroke-linejoin="round" stroke-linecap="round"><path d="M1175.7 821Q1175.7 824.9 1182.3 828.7L1357 930.4Q1376 941.5 1395 930.4L1569.7 828.7Q1576.3 824.9 1576.3 821"/><path d="M1175.7 786v35M1576.3 786v35"/><path d="M1376 901v35"/><path d="M1182.3 793.7Q1169 786 1182.3 778.3L1357 676.6Q1376 665.5 1395 676.6L1569.7 778.3Q1583 786 1569.7 793.7L1395 895.4Q1376 906.5 1357 895.4Z"/></g></g>
<g fill="url(#prdside)"><path d="M1182.3 828.7Q1169 821 1182.3 813.3L1357 711.6Q1376 700.5 1395 711.6L1569.7 813.3Q1583 821 1569.7 828.7L1395 930.4Q1376 941.5 1357 930.4Z"/><path d="M1175.7 786L1576.3 786L1576.3 821L1175.7 821Z"/></g><clipPath id="sg9"><rect x="1376" y="0" width="1500" height="1536"/></clipPath><g fill="#414d5b" clip-path="url(#sg9)"><path d="M1182.3 828.7Q1169 821 1182.3 813.3L1357 711.6Q1376 700.5 1395 711.6L1569.7 813.3Q1583 821 1569.7 828.7L1395 930.4Q1376 941.5 1357 930.4Z"/><path d="M1175.7 786L1576.3 786L1576.3 821L1175.7 821Z"/></g><path d="M1182.3 793.7Q1169 786 1182.3 778.3L1357 676.6Q1376 665.5 1395 676.6L1569.7 778.3Q1583 786 1569.7 793.7L1395 895.4Q1376 906.5 1357 895.4Z" fill="url(#prdtop)"/><path d="M1182.3 793.7Q1169 786 1182.3 778.3L1357 676.6Q1376 665.5 1395 676.6L1569.7 778.3Q1583 786 1569.7 793.7L1395 895.4Q1376 906.5 1357 895.4Z" fill="#7b8a9a"/><path d="M1206.2 791.5Q1196.7 786 1206.2 780.5L1360.8 690.5Q1376 681.6 1391.2 690.5L1545.8 780.5Q1555.3 786 1545.8 791.5L1391.2 881.5Q1376 890.4 1360.8 881.5Z" fill="url(#prdtop)" stroke="#e3ecf4" stroke-width="2.8" stroke-opacity="0.8"/><g fill="none" stroke="#e3ecf4" stroke-width="4.8" stroke-linejoin="round" stroke-linecap="round"><path d="M1175.7 821Q1175.7 824.9 1182.3 828.7L1357 930.4Q1376 941.5 1395 930.4L1569.7 828.7Q1576.3 824.9 1576.3 821"/><path d="M1175.7 786v35M1576.3 786v35"/><path d="M1376 901v35"/><path d="M1182.3 793.7Q1169 786 1182.3 778.3L1357 676.6Q1376 665.5 1395 676.6L1569.7 778.3Q1583 786 1569.7 793.7L1395 895.4Q1376 906.5 1357 895.4Z"/></g>
<g font-family="'Liberation Sans', 'DejaVu Sans', sans-serif">
<text transform="translate(1500.2 551.8) rotate(-28) skewX(10)" x="0" y="9.2" text-anchor="middle" textLength="110" lengthAdjust="spacingAndGlyphs" font-size="25.5" font-weight="normal" fill="#eef0f2" fill-opacity="1" stroke="#eef0f2" stroke-width="1.25" stroke-linejoin="round">Arnhitm</text>
<text transform="translate(1533 566) rotate(-28) skewX(10)" x="0" y="9.2" text-anchor="middle" textLength="64" lengthAdjust="spacingAndGlyphs" font-size="25.5" font-weight="normal" fill="#eef0f2" fill-opacity="1" stroke="#eef0f2" stroke-width="1.25" stroke-linejoin="round">Docs</text>
<text transform="translate(1693.5 655.5) rotate(-24) skewX(22)" x="0" y="9.4" text-anchor="middle" textLength="90" lengthAdjust="spacingAndGlyphs" font-size="26" font-weight="normal" fill="#eef0f2" fill-opacity="1" stroke="#eef0f2" stroke-width="1.25" stroke-linejoin="round">Design</text>
<text transform="translate(1726 674) rotate(-25) skewX(22)" x="0" y="9.4" text-anchor="middle" textLength="62" lengthAdjust="spacingAndGlyphs" font-size="26" font-weight="normal" fill="#eef0f2" fill-opacity="1" stroke="#eef0f2" stroke-width="1.25" stroke-linejoin="round">Docs</text>
<text transform="translate(1814.8 839.4) rotate(-26) skewX(3)" x="0" y="9.7" text-anchor="middle" textLength="118" lengthAdjust="spacingAndGlyphs" font-size="27" font-weight="normal" fill="#eef0f2" fill-opacity="1" stroke="#eef0f2" stroke-width="1.25" stroke-linejoin="round">Business</text>
<text transform="translate(1847 861.7) rotate(-26) skewX(3)" x="0" y="9.7" text-anchor="middle" textLength="66" lengthAdjust="spacingAndGlyphs" font-size="27" font-weight="normal" fill="#eef0f2" fill-opacity="1" stroke="#eef0f2" stroke-width="1.25" stroke-linejoin="round">Docs</text>
<text transform="translate(1156.9 966.2) rotate(-25.5) skewX(10)" x="0" y="9.5" text-anchor="middle" textLength="94" lengthAdjust="spacingAndGlyphs" font-size="26.5" font-weight="normal" fill="#eef0f2" fill-opacity="1" stroke="#eef0f2" stroke-width="1.25" stroke-linejoin="round">Design</text>
<text transform="translate(1189.7 987) rotate(-26.5) skewX(10)" x="0" y="9.5" text-anchor="middle" textLength="64" lengthAdjust="spacingAndGlyphs" font-size="26.5" font-weight="normal" fill="#eef0f2" fill-opacity="1" stroke="#eef0f2" stroke-width="1.25" stroke-linejoin="round">Docs</text>
<text transform="translate(1623.8 952) rotate(-26) skewX(8)" x="0" y="8.8" text-anchor="middle" textLength="140" lengthAdjust="spacingAndGlyphs" font-size="24.5" font-weight="normal" fill="#eef0f2" fill-opacity="1" stroke="#eef0f2" stroke-width="1.25" stroke-linejoin="round">Deployment</text>
<text transform="translate(1653.5 977) rotate(-26.5) skewX(8)" x="0" y="9" text-anchor="middle" textLength="82" lengthAdjust="spacingAndGlyphs" font-size="25" font-weight="normal" fill="#eef0f2" fill-opacity="1" stroke="#eef0f2" stroke-width="1.25" stroke-linejoin="round">Guides</text>
<text transform="translate(1433 1058.5) rotate(-25) skewX(3)" x="0" y="9.7" text-anchor="middle" textLength="104" lengthAdjust="spacingAndGlyphs" font-size="27" font-weight="normal" fill="#eef0f2" fill-opacity="1" stroke="#eef0f2" stroke-width="1.25" stroke-linejoin="round">Testing</text>
<text transform="translate(1462.6 1083.5) rotate(-25) skewX(3)" x="0" y="9.7" text-anchor="middle" textLength="74" lengthAdjust="spacingAndGlyphs" font-size="27" font-weight="normal" fill="#eef0f2" fill-opacity="1" stroke="#eef0f2" stroke-width="1.25" stroke-linejoin="round">Plans</text>
<text x="975.4" y="874" text-anchor="middle" textLength="162" lengthAdjust="spacingAndGlyphs" font-weight="bold" font-size="27.5" fill="#eef0f2">Architecture</text>
<text transform="translate(1318 748.5) rotate(-24) skewX(18)" x="0" y="11.7" text-anchor="middle" textLength="73" lengthAdjust="spacingAndGlyphs" font-size="32.5" font-weight="bold" fill="#f4f6f8" fill-opacity="1">PRD</text>
<text transform="translate(1351.7 765.5) rotate(-27) skewX(18)" x="0" y="8.5" text-anchor="middle" textLength="91" lengthAdjust="spacingAndGlyphs" font-size="23.5" font-weight="normal" fill="#e8ecf0" fill-opacity="1" stroke="#e8ecf0" stroke-width="1.25" stroke-linejoin="round">(Product</text>
<text transform="translate(1375 785) rotate(-26.5) skewX(18)" x="0" y="8.6" text-anchor="middle" textLength="155" lengthAdjust="spacingAndGlyphs" font-size="24" font-weight="normal" fill="#e8ecf0" fill-opacity="1" stroke="#e8ecf0" stroke-width="1.25" stroke-linejoin="round">Requirements</text>
<text transform="translate(1400 801) rotate(-26) skewX(18)" x="0" y="8.6" text-anchor="middle" textLength="119" lengthAdjust="spacingAndGlyphs" font-size="24" font-weight="normal" fill="#e8ecf0" fill-opacity="1" stroke="#e8ecf0" stroke-width="1.25" stroke-linejoin="round">Document)</text>
<text transform="translate(1424 817.3) rotate(-27.5) skewX(18)" x="0" y="8.5" text-anchor="middle" textLength="149" lengthAdjust="spacingAndGlyphs" font-size="23.5" font-weight="normal" fill="#d5dde5" fill-opacity="1" stroke="#d5dde5" stroke-width="1.25" stroke-linejoin="round">Single Source</text>
<text transform="translate(1448 831) rotate(-26) skewX(18)" x="0" y="8.5" text-anchor="middle" textLength="88" lengthAdjust="spacingAndGlyphs" font-size="23.5" font-weight="normal" fill="#d5dde5" fill-opacity="1" stroke="#d5dde5" stroke-width="1.25" stroke-linejoin="round">of Truth</text>
</g>
</g>
</g>
</g>
</svg>
</body>
</html>
